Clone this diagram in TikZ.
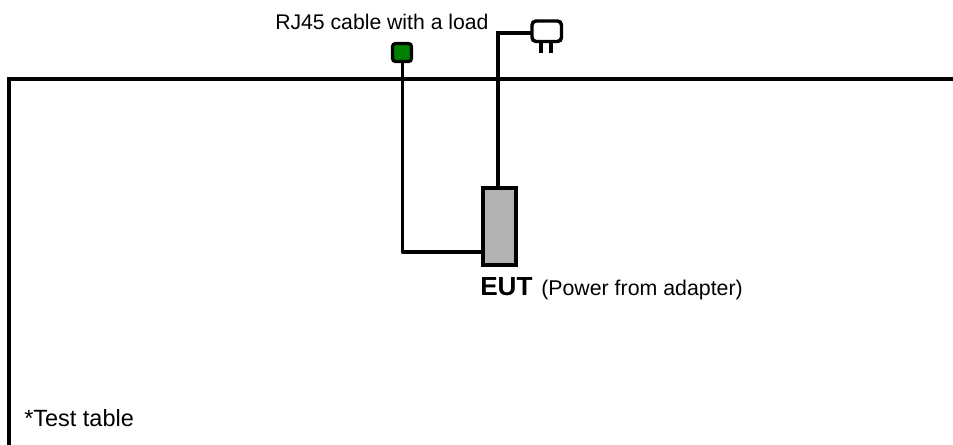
\documentclass[tikz,border=0pt]{standalone}
\usepackage{fontspec}
\setmainfont{Liberation Sans}
\tikzset{
  wire/.style={draw=black,line width=2.4pt,line join=round},
  thick wire/.style={draw=black,line width=3pt,line join=miter},
  lbl/.style={inner sep=0pt,anchor=base west,text=black},
  loadbox/.style={draw=black,fill=green!50!black,line width=2.4pt,rounded corners=2.2pt},
  plugbox/.style={draw=black,fill=white,line width=2.6pt,rounded corners=3pt},
  eutbox/.style={draw=black,fill=black!30,line width=3pt}
}
\begin{document}
\begin{tikzpicture}[x=0.75pt,y=-0.75pt]
\useasboundingbox (0,0) rectangle (953,445);
% table
\coordinate (t1) at (9,445);
\coordinate (t2) at (9,79.5);
\coordinate (t3) at (953,79.5);
\draw[thick wire] (t1) -- (t2) -- (t3);
% EUT
\path[eutbox] (483,188.5) rectangle (516,265.5);
\coordinate (eutL) at (483,252);
\coordinate (eutT) at (498,188.5);
% load
\coordinate (loadB) at (402.5,61.5);
\draw[wire] (loadB) -- (402.5,252) -- (eutL);
\path[loadbox] (392.5,43.5) rectangle (411.5,61.5);
% plug
\coordinate (plugL) at (532,33.5);
\draw[thick wire] (eutT) -- (498,33.5) -- (plugL);
\draw[thick wire] (541.3,41) -- (541.3,52.7);
\draw[thick wire] (551.3,41) -- (551.3,52.7);
\path[plugbox] (532,21) rectangle (561.5,41.5);
% text
\node[lbl,font=\fontsize{15.9}{18}\selectfont] (rj) at (275,30) {RJ45 cable with a load};
\node[lbl,font=\fontsize{19.6}{22}\selectfont\bfseries] (eut) at (480,296) {EUT};
\node[lbl,font=\fontsize{16}{18}\selectfont] (pw) at (541,296) {(Power from adapter)};
\node[lbl,font=\fontsize{17.6}{20}\selectfont] (tt) at (24,426) {*Test table};
\end{tikzpicture}
\end{document}
